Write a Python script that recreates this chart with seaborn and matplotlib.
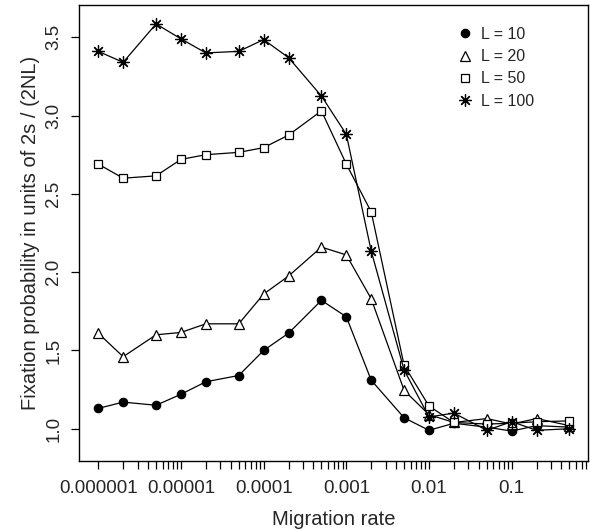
import numpy as np
import pandas as pd
import matplotlib
matplotlib.use("Agg")
import matplotlib.pyplot as plt
from matplotlib.lines import Line2D
from matplotlib.ticker import FixedLocator, FuncFormatter, NullLocator
import seaborn as sns

# ---- data ----
migration = [1e-6, 2e-6, 5e-6, 1e-5, 2e-5, 5e-5, 1e-4, 2e-4, 5e-4,
             1e-3, 2e-3, 5e-3, 1e-2, 2e-2, 5e-2, 0.1, 0.2, 0.5]
L10 = [1.13, 1.17, 1.15, 1.22, 1.30, 1.34, 1.50, 1.61, 1.82,
       1.715, 1.31, 1.07, 0.99, 1.035, 1.01, 0.985, 1.02, 1.01]
L20 = [1.61, 1.46, 1.60, 1.615, 1.67, 1.67, 1.86, 1.975, 2.16,
       2.11, 1.83, 1.245, 1.09, 1.04, 1.065, 1.03, 1.065, 1.02]
L50 = [2.69, 2.60, 2.615, 2.72, 2.75, 2.765, 2.795, 2.875, 3.03,
       2.69, 2.385, 1.405, 1.145, 1.04, 1.03, 1.035, 1.045, 1.05]
L100 = [3.41, 3.34, 3.585, 3.49, 3.40, 3.41, 3.485, 3.37, 3.125,
        2.88, 2.135, 1.375, 1.075, 1.10, 0.99, 1.045, 0.99, 1.0]
labels = ["L = 10", "L = 20", "L = 50", "L = 100"]
yticks = [1.0, 1.5, 2.0, 2.5, 3.0, 3.5]

series = [L10, L20, L50, L100]
df = pd.concat([pd.DataFrame({"m": migration, "p": s, "L": lab})
                for s, lab in zip(series, labels)], ignore_index=True)

sns.set_style("white")
plt.rcParams["font.family"] = ["Liberation Sans", "DejaVu Sans"]

fig = plt.figure(figsize=(5.91, 5.30), dpi=100)
ax = fig.add_axes([79/591, 1-461/530, (588-79)/591, (461-5)/530])

styles = {
    "L = 10": dict(marker="o", markersize=6.0, markerfacecolor="black"),
    "L = 20": dict(marker="^", markersize=7.2, markerfacecolor="white"),
    "L = 50": dict(marker="s", markersize=5.4, markerfacecolor="white"),
    "L = 100": dict(marker=(8, 2, 0), markersize=8.8, markerfacecolor="black"),
}

for lab in labels:
    sub = df[df["L"] == lab]
    sns.lineplot(data=sub, x="m", y="p", ax=ax, color="black", linewidth=0.9,
                 markeredgecolor="black", markeredgewidth=0.9,
                 errorbar=None, legend=False, **styles[lab])

ax.set_xscale("log")
ax.set_xlim(10**-6.233, 10**-0.077)
ax.set_ylim(0.794, 3.706)

tick_pos = [m * 10.0**e for e in range(-6, 0) for m in range(1, 10)]
tick_pos = [t for t in tick_pos if t <= 0.8]
ax.xaxis.set_major_locator(FixedLocator(tick_pos))
ax.xaxis.set_minor_locator(NullLocator())

def fmt(v, pos):
    e = np.log10(v)
    if abs(e - round(e)) < 1e-6:
        d = max(0, -int(round(e)))
        return f"{v:.{d}f}"
    return ""

ax.xaxis.set_major_formatter(FuncFormatter(fmt))
ax.set_yticks(yticks)
ax.set_yticklabels([f"{t:.1f}" for t in yticks], rotation=90, va="center")

ax.tick_params(axis="both", direction="out", length=6, width=0.9,
               color="black", labelsize=13.5, bottom=True, left=True)
ax.tick_params(axis="x", pad=8)
ax.tick_params(axis="y", pad=6)
for sp in ax.spines.values():
    sp.set_color("black")
    sp.set_linewidth(1.0)

ax.set_xlabel("Migration rate", fontsize=14.5, labelpad=9)
ax.set_ylabel("Fixation probability in units of 2s / (2NL)", fontsize=14.5, labelpad=4)

handles = [Line2D([], [], linestyle="none", color="black", markeredgecolor="black",
                  markeredgewidth=0.9, **styles[lab]) for lab in labels]
fig.legend(handles, labels, loc="upper left", bbox_to_anchor=(457/591, 1-27/530),
           frameon=False, fontsize=11.5, handlelength=1.0, handletextpad=0.5,
           labelspacing=0.45, borderpad=0, borderaxespad=0)

fig.savefig("out.png", dpi=100)
